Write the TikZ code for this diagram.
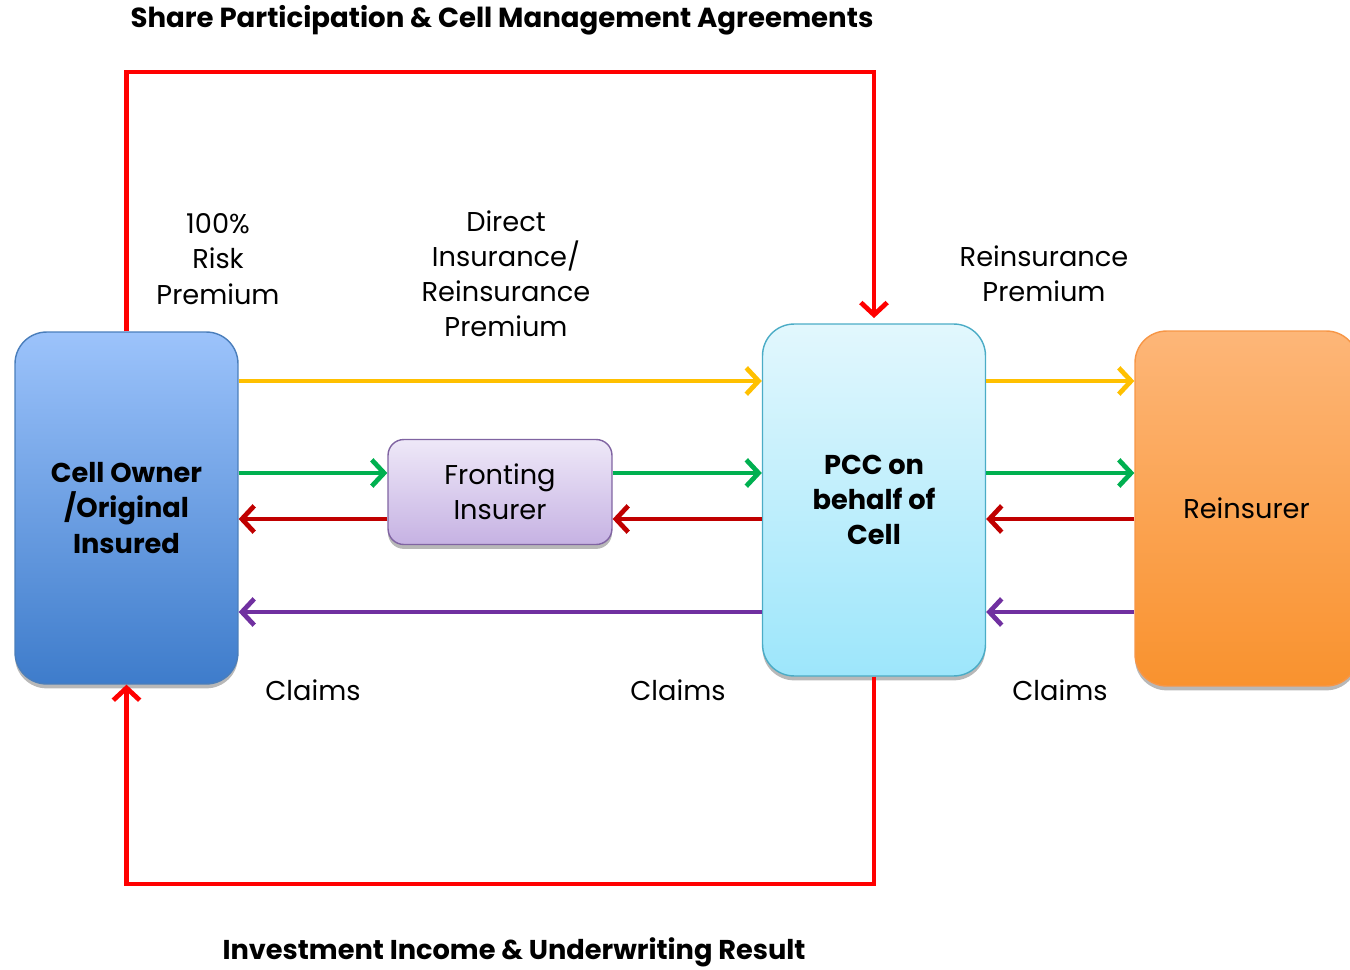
\documentclass[tikz,border=0pt]{standalone}
\usepackage{fontspec}
\setmainfont{Poppins}
\usepackage{tikz}
\usetikzlibrary{positioning,calc,shadows,arrows.meta}

\definecolor{ownertop}{HTML}{9CC3FB}
\definecolor{ownerbot}{HTML}{3E7CCB}
\definecolor{ownerline}{HTML}{4A7EBB}
\definecolor{fronttop}{HTML}{EEE8F8}
\definecolor{frontbot}{HTML}{C6B2E3}
\definecolor{frontline}{HTML}{8064A2}
\definecolor{pcctop}{HTML}{E2F7FD}
\definecolor{pccbot}{HTML}{9DE6FB}
\definecolor{pccline}{HTML}{4BACC6}
\definecolor{reinstop}{HTML}{FDB678}
\definecolor{reinsbot}{HTML}{F9922E}
\definecolor{reinsline}{HTML}{F79646}
\definecolor{premyellow}{HTML}{FFC000}
\definecolor{premgreen}{HTML}{00B050}
\definecolor{claimred}{HTML}{C00000}
\definecolor{claimpurple}{HTML}{7030A0}
\definecolor{loopred}{HTML}{FF0000}

\tikzset{
    box/.style={rectangle, rounded corners=18pt, line width=0.8pt, align=center,
        drop shadow={shadow xshift=0pt, shadow yshift=-2.5pt, fill=black!35, opacity=0.8}},
    flow/.style={line width=2.7pt, -{Straight Barb[length=7pt,width=15pt,line width=2.7pt]}},
    lbl/.style={align=center, font=\fontsize{15.5}{20}\selectfont},
}

\begin{document}
\begin{tikzpicture}[x=0.02cm, y=-0.02cm]
    \clip (0,0) rectangle (1350,970);
    \useasboundingbox (0,0) rectangle (1350,970);

    % Boxes
    \node[box, draw=ownerline, top color=ownertop, bottom color=ownerbot,
          minimum width=4.46cm, minimum height=7.04cm, font=\bfseries\fontsize{15.5}{20}\selectfont]
        (owner) at (126.5,508) {Cell Owner\\/Original\\Insured};
    \node[box, rounded corners=9pt, draw=frontline, top color=fronttop, bottom color=frontbot,
          minimum width=4.48cm, minimum height=2.1cm, font=\fontsize{15.5}{20}\selectfont]
        (front) at (500,492) {Fronting\\Insurer};
    \node[box, draw=pccline, top color=pcctop, bottom color=pccbot,
          minimum width=4.46cm, minimum height=7.04cm, font=\bfseries\fontsize{15.5}{20}\selectfont]
        (pcc) at (874,500) {PCC on\\behalf of\\Cell};
    \node[box, draw=reinsline, top color=reinstop, bottom color=reinsbot,
          minimum width=4.46cm, minimum height=7.1cm, font=\fontsize{15.5}{20}\selectfont]
        (reins) at (1246.5,508.5) {Reinsurer};

    % Premium flows
    \draw[flow, color=premyellow] (owner.east |- 0,381) -- (pcc.west |- 0,381);
    \draw[flow, color=premyellow] (pcc.east |- 0,381) -- (reins.west |- 0,381);
    \draw[flow, color=premgreen] (owner.east |- 0,473) -- (front.west |- 0,473);
    \draw[flow, color=premgreen] (front.east |- 0,473) -- (pcc.west |- 0,473);
    \draw[flow, color=premgreen] (pcc.east |- 0,473) -- (reins.west |- 0,473);

    % Claims flows
    \draw[flow, color=claimred] (pcc.west |- 0,519) -- (front.east |- 0,519);
    \draw[flow, color=claimred] (front.west |- 0,519) -- (owner.east |- 0,519);
    \draw[flow, color=claimred] (reins.west |- 0,519) -- (pcc.east |- 0,519);
    \draw[flow, color=claimpurple] (pcc.west |- 0,612) -- (owner.east |- 0,612);
    \draw[flow, color=claimpurple] (reins.west |- 0,612) -- (pcc.east |- 0,612);

    % Agreement loops
    \draw[flow, color=loopred, shorten >=3pt]
        (owner.north) -- (owner.north |- 0,72) -- (pcc.north |- 0,72) -- (pcc.north);
    \draw[flow, color=loopred]
        (pcc.south) -- (pcc.south |- 0,884) -- (owner.south |- 0,884) -- (owner.south);

    % Labels
    \node[font=\bfseries\fontsize{15.7}{20}\selectfont] (ttop) at (502,20) {Share Participation \& Cell Management Agreements};
    \node[font=\bfseries\fontsize{15.5}{20}\selectfont] (tbot) at (514,952) {Investment Income \& Underwriting Result};
    \node[lbl] (riskp) at (218,259) {100\%\\Risk\\Premium};
    \node[lbl] (directp) at (506,274) {Direct\\Insurance/\\Reinsurance\\Premium};
    \node[lbl] (reinsp) at (1044,274) {Reinsurance\\Premium};
    \node[lbl] (claimsa) at (313,690) {Claims};
    \node[lbl] (claimsb) at (678,690) {Claims};
    \node[lbl] (claimsc) at (1060,690) {Claims};
\end{tikzpicture}
\end{document}
